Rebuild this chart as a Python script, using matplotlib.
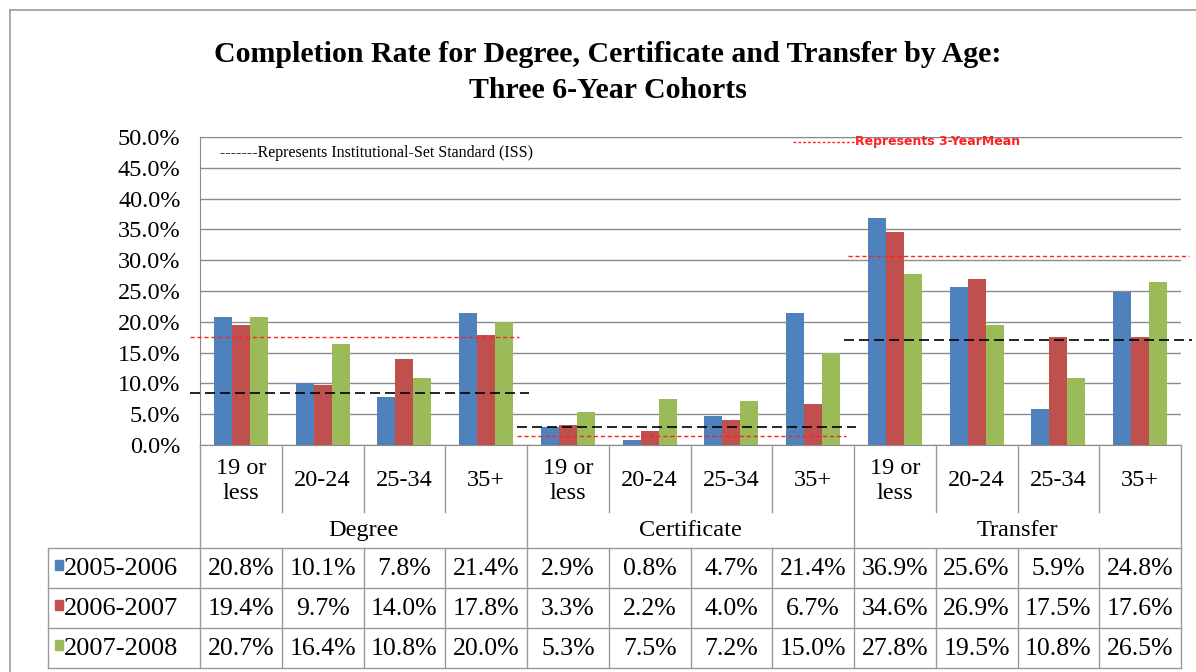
import matplotlib.pyplot as plt
from matplotlib.patches import Rectangle
import numpy as np

plt.rcParams['font.family'] = ['Liberation Serif', 'DejaVu Serif']

groups = ["Degree", "Certificate", "Transfer"]
ages = ["19 or\nless", "20-24", "25-34", "35+"]
series = ["2005-2006", "2006-2007", "2007-2008"]
colors = ["#4F81BD", "#C0504D", "#9BBB59"]

v0506 = [20.8, 10.1, 7.8, 21.4, 2.9, 0.8, 4.7, 21.4, 36.9, 25.6, 5.9, 24.8]
v0607 = [19.4, 9.7, 14.0, 17.8, 3.3, 2.2, 4.0, 6.7, 34.6, 26.9, 17.5, 17.6]
v0708 = [20.7, 16.4, 10.8, 20.0, 5.3, 7.5, 7.2, 15.0, 27.8, 19.5, 10.8, 26.5]
values = [v0506, v0607, v0708]

# institutional-set standard and 3-year mean per group
iss = [8.4, 3.0, 17.0]
mean3 = [17.6, 1.5, 30.7]

W, H = 1196, 672
fig = plt.figure(figsize=(W / 100, H / 100), dpi=100)

def px(x0, y0, x1, y1):
    return [x0 / W, 1 - y1 / H, (x1 - x0) / W, (y1 - y0) / H]

# outer chart frame
fig.add_artist(plt.Line2D([10 / W, 1], [1 - 10 / H, 1 - 10 / H], color="#999999", lw=1.2))
fig.add_artist(plt.Line2D([10 / W, 10 / W], [0, 1 - 10 / H], color="#999999", lw=1.2))

ax = fig.add_axes(px(200, 137, 1181, 445))
n = len(v0506)
x = np.arange(n)
bw = 0.22
for k, (vals, c) in enumerate(zip(values, colors)):
    ax.bar(x + (k - 1) * bw, vals, bw, color=c, zorder=3)

ax.set_xlim(-0.5, n - 0.5)
ax.set_ylim(0, 50)
ax.set_yticks(np.arange(0, 51, 5))
ax.set_yticklabels([f"{t:.1f}%" for t in np.arange(0, 51, 5)], fontsize=17.5)
ax.tick_params(axis="y", length=0, pad=14)
ax.tick_params(axis="x", length=0, labelbottom=False)
ax.grid(axis="y", color="#8a8a8a", lw=1.0, zorder=0)
for s in ax.spines.values():
    s.set_color("#8a8a8a")
ax.spines["right"].set_visible(False)

# reference lines per group
for g in range(3):
    x0, x1 = g * 4 - 0.5, g * 4 + 3.5
    ax.plot([x0 - 0.12, x1 + (0.14 if g == 2 else 0.02)], [iss[g]] * 2, color="black",
            ls=(0, (6, 3)), lw=1.2, zorder=4, clip_on=False)
    ax.plot([x0 - 0.12 + (0.05 if g == 2 else 0), x1 - 0.1 + (0.2 if g == 2 else 0)], [mean3[g]] * 2,
            color="#FF2020", ls=(0, (3, 2)), lw=1.0, zorder=4, clip_on=False)

ax.text(0.02, 0.975, "-------Represents Institutional-Set Standard (ISS)", transform=ax.transAxes,
        fontsize=11.5, va="top", ha="left", zorder=5)
ax.plot([0.604, 0.667], [0.985, 0.985], transform=ax.transAxes, color="#FF2020",
        ls=(0, (2, 1.5)), lw=1.0, clip_on=False)
ax.text(0.668, 0.985, "Represents 3-YearMean", transform=ax.transAxes, fontsize=9,
        color="#FF2020", fontweight="bold", va="center", ha="left", family="Liberation Sans Narrow")

fig.text(608 / W, 1 - 55 / H, "Completion Rate for Degree, Certificate and Transfer by Age:",
         ha="center", va="center", fontsize=21.5, fontweight="bold")
fig.text(608 / W, 1 - 90 / H, "Three 6-Year Cohorts", ha="center", va="center",
         fontsize=21.5, fontweight="bold")

# category axis + data table
tax = fig.add_axes(px(200, 445, 1181, 672))
tax.set_xlim(-0.5, n - 0.5)
tax.set_ylim(672, 445)
tax.axis("off")
lc = "#9a9a9a"
left_edge = -0.5 - 152 / 81.75

# separators between ages and groups
for i in range(n + 1):
    xb = i - 0.5
    if i % 4 == 0:
        tax.plot([xb, xb], [445, 668], color=lc, lw=1.0, clip_on=False)
    else:
        tax.plot([xb, xb], [445, 512], color=lc, lw=1.0, clip_on=False)
        tax.plot([xb, xb], [548, 668], color=lc, lw=1.0, clip_on=False)
for i in range(n):
    tax.text(i, 481, ages[i % 4], ha="center", va="center", fontsize=17.5, linespacing=1.25)
for g, name in enumerate(groups):
    tax.text(g * 4 + 1.5, 531, name, ha="center", va="center", fontsize=17.5)

row_y = [548, 588, 628, 668]
for yy in row_y:
    tax.plot([left_edge, n - 0.5], [yy, yy], color=lc, lw=1.0, clip_on=False)
tax.plot([left_edge, left_edge], [548, 668], color=lc, lw=1.0, clip_on=False)

for r, (name, vals, c) in enumerate(zip(series, values, colors)):
    yc = (row_y[r] + row_y[r + 1]) / 2
    tax.add_patch(Rectangle((left_edge + 0.09, yc - 8), 0.09, 10, color=c, clip_on=False))
    tax.text(left_edge + 0.2, yc + 1, name, ha="left", va="center", fontsize=19)
    for i, v in enumerate(vals):
        tax.text(i, yc + 1, f"{v:.1f}%", ha="center", va="center", fontsize=18.5)

fig.savefig("out.png", dpi=100, facecolor="white")
